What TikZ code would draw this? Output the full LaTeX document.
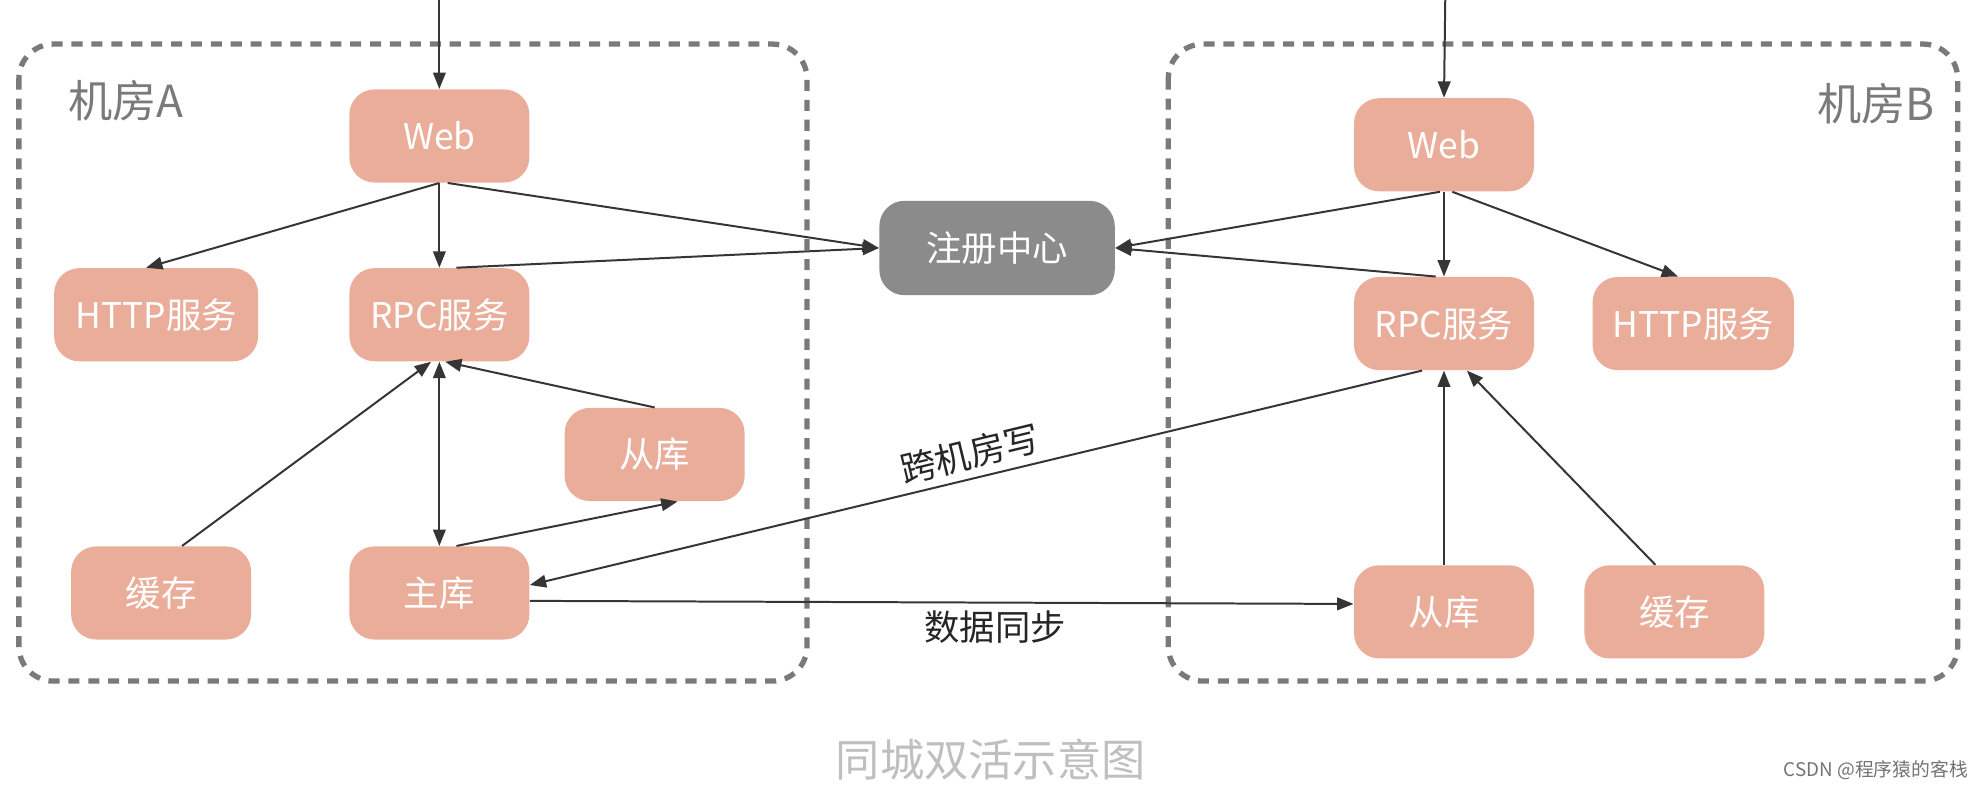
\documentclass[tikz,border=0pt]{standalone}
\usepackage{fontspec}
\setmainfont{Noto Sans CJK SC}
\usetikzlibrary{arrows.meta}
\definecolor{salmon}{HTML}{EAAD9A}
\definecolor{reggray}{HTML}{8B8B8B}
\definecolor{framegray}{HTML}{7A7A7A}
\definecolor{linegray}{HTML}{353535}

\begin{document}
\begin{tikzpicture}[
		x=0.02cm, y=-0.02cm,
		svc/.style={
			rectangle,
			rounded corners=0.4cm,
			fill=salmon,
			text=white,
			minimum width=2.86cm,
			minimum height=1.48cm,
			font=\fontsize{16}{18}\selectfont
		},
		regbox/.style={
			svc,
			fill=reggray,
			minimum width=3.74cm,
			minimum height=1.5cm
		},
		room/.style={
			draw=framegray,
			line width=2.4pt,
			dash pattern=on 5pt off 4pt,
			rounded corners=0.55cm
		},
		arrow/.style={
			->,
			>={Triangle[length=0.26cm,width=0.2cm]},
			draw=linegray,
			line width=0.9pt
		},
		roomlabel/.style={text=framegray, font=\fontsize{20}{22}\selectfont},
		edgelabel/.style={text=black!85, font=\fontsize{16}{18}\selectfont}
		]
		
		\useasboundingbox (0,0) rectangle (1568,629);
		
		% Rooms
		\draw[room] (15,35) rectangle (641,541);
		\draw[room] (928,35) rectangle (1555,541);
		\node[roomlabel] (labA) at (100,80) {机房A};
		\node[roomlabel] (labB) at (1490,82) {机房B};
		
		% Room A
		\node[svc] (aweb) at (349,108) {Web};
		\node[svc, minimum width=3.24cm] (ahttp) at (124,250) {HTTP服务};
		\node[svc] (arpc) at (349,250) {RPC服务};
		\node[svc] (aslave) at (520,361) {从库};
		\node[svc] (acache) at (128,471) {缓存};
		\node[svc] (amain) at (349,471) {主库};
		
		% Registry
		\node[regbox] (reg) at (792,197) {注册中心};
		
		% Room B
		\node[svc] (bweb) at (1147,115) {Web};
		\node[svc] (brpc) at (1147,257) {RPC服务};
		\node[svc, minimum width=3.2cm] (bhttp) at (1345,257) {HTTP服务};
		\node[svc] (bslave) at (1147,486) {从库};
		\node[svc] (bcache) at (1330,486) {缓存};
		
		\coordinate (ain) at (349,0);
		\coordinate (bin) at (1148,0);
		
		% Arrows in room A
		\draw[arrow] (ain) -- (aweb.north);
		\draw[arrow] (aweb.south) -- (ahttp.102);
		\draw[arrow] (aweb.south) -- (arpc.north);
		\draw[arrow] (aweb.-80) -- (reg.west);
		\draw[arrow] (arpc.70) -- (reg.west);
		\draw[arrow] (acache.66) -- (arpc.-100);
		\draw[arrow] (aslave.north) -- (arpc.-83);
		\draw[arrow, <->] (arpc.south) -- (amain.north);
		\draw[arrow] (amain.70) -- (aslave.-64);
		
		% Arrows in room B
		\draw[arrow] (bin) -- (bweb.north);
		\draw[arrow] (bweb.-95) -- (reg.east);
		\draw[arrow] (brpc.100) -- (reg.east);
		\draw[arrow] (bweb.south) -- (brpc.north);
		\draw[arrow] (bweb.-80) -- (bhttp.108);
		\draw[arrow] (bslave.north) -- (brpc.south);
		\draw[arrow] (bcache.112) -- (brpc.-64);
		
		% Between rooms
		\draw[arrow, <-] (amain.5) -- node[edgelabel, sloped, above] {跨机房写} (brpc.-115);
		\draw[arrow] (amain.-5) -- node[edgelabel, below, pos=0.565] {数据同步} (bslave.175);
		
		% Caption
		\node[text=black!25, font=\fontsize{20}{22}\selectfont] (caption) at (787,603) {同城双活示意图};
		\node[text=black!55, font=\fontsize{8.5}{10}\selectfont] (mark) at (1490,612) {CSDN @程序猿的客栈};
	\end{tikzpicture}
\end{document}
